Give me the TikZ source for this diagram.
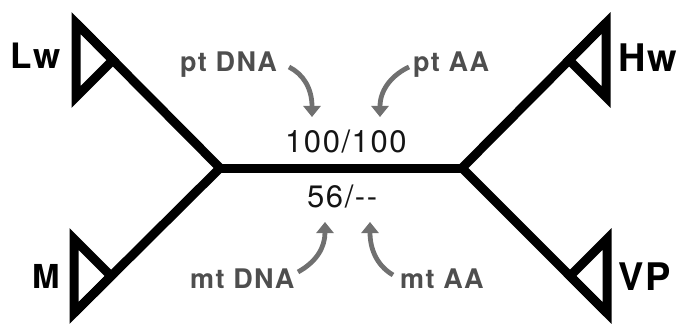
\documentclass[tikz,border=0pt]{standalone}
\usepackage{fontspec}
\setmainfont{TeX Gyre Heros}
\newfontfamily\trackfont[LetterSpace=5]{TeX Gyre Heros}
\usetikzlibrary{arrows.meta}
\definecolor{armgray}{RGB}{112,112,112}
\definecolor{tagray}{RGB}{78,78,78}
\definecolor{numblack}{RGB}{20,20,20}
\tikzset{
  tree/.style={line width=9pt, line join=miter, line cap=butt, black},
  taxon/.style={inner sep=0pt, anchor=base west, font=\trackfont\bfseries\fontsize{#1}{#1}\selectfont},
  datatag/.style={inner sep=0pt, anchor=base west, text=tagray, font=\trackfont\bfseries\fontsize{27}{27}\selectfont},
  support/.style={inner sep=0pt, anchor=base west, text=numblack, font=\trackfont\fontsize{31}{31}\selectfont},
  pointer/.style={line width=4.8pt, armgray, -{Triangle[width=17pt,length=11pt]}}
}
\begin{document}
\begin{tikzpicture}[x=1pt,y=-1pt]
\useasboundingbox (0,0) rectangle (678,329);

% internal branch and its two forks
\coordinate (jl) at (220,168);
\coordinate (jr) at (462,168);
\coordinate (lwT) at (76,23);  \coordinate (lwB) at (76,97);  \coordinate (lwP) at (113,60);
\coordinate (mT) at (74,239);  \coordinate (mB) at (74,313);  \coordinate (mP) at (111,276);
\coordinate (hwT) at (606,23); \coordinate (hwB) at (606,97); \coordinate (hwP) at (569,60);
\coordinate (vpT) at (607,239);\coordinate (vpB) at (607,313);\coordinate (vpP) at (570,276);

\draw[tree] (lwT) -- (jl) -- (mB);
\draw[tree] (hwT) -- (jr) -- (vpB);
\draw[tree] (jl) -- (jr);

% collapsed clades
\draw[tree] (lwT) -- (lwB) -- (lwP) -- cycle;
\draw[tree] (mT) -- (mB) -- (mP) -- cycle;
\draw[tree] (hwT) -- (hwB) -- (hwP) -- cycle;
\draw[tree] (vpT) -- (vpB) -- (vpP) -- cycle;

% clade names
\node[taxon=35] (lw) at (10,69) {Lw};
\node[taxon=33] (m) at (32,288) {M};
\node[taxon=38] (hw) at (618,72) {Hw};
\node[taxon=38] (vp) at (618,290) {VP};

% support values on the internal branch
\node[support] (pt) at (285,152) {100/100};
\node[support] (mt) at (307,207) {56/--};

% data set labels
\node[datatag] (ptdna) at (180,72) {pt DNA};
\node[datatag] (ptaa) at (413,72) {pt AA};
\node[datatag] (mtdna) at (190,288) {mt DNA};
\node[datatag] (mtaa) at (400,288) {mt AA};

% pointers from data sets to values
\coordinate (ptdnaS) at (289,67);  \coordinate (ptdnaE) at (312,117);
\coordinate (ptaaS) at (409,67);   \coordinate (ptaaE) at (380,117);
\coordinate (mtdnaS) at (298,272); \coordinate (mtdnaE) at (325,222);
\coordinate (mtaaS) at (393,275);  \coordinate (mtaaE) at (370,222);

\draw[pointer] (ptdnaS) .. controls (303,74) and (312,88) .. (ptdnaE);
\draw[pointer] (ptaaS) .. controls (394,74) and (380,88) .. (ptaaE);
\draw[pointer] (mtdnaS) .. controls (316,262) and (325,248) .. (mtdnaE);
\draw[pointer] (mtaaS) .. controls (376,265) and (370,248) .. (mtaaE);
\end{tikzpicture}
\end{document}
